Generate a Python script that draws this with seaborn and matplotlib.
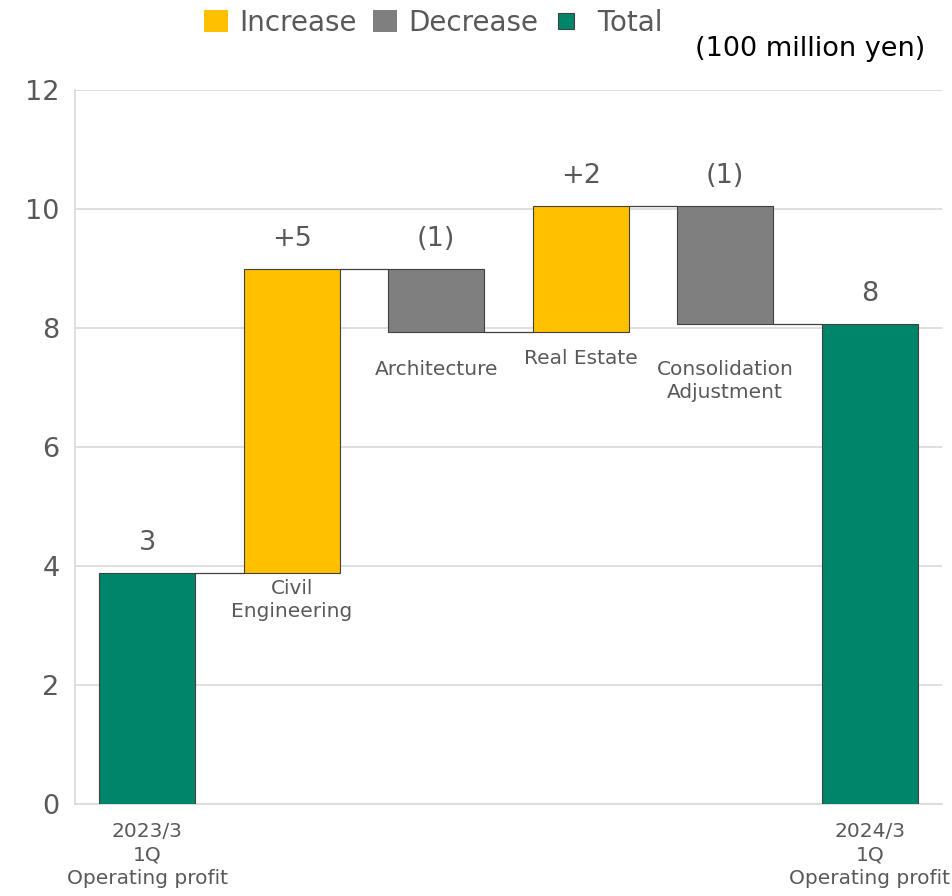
import matplotlib
matplotlib.use("Agg")
import matplotlib.pyplot as plt
from matplotlib.patches import Patch
from matplotlib.lines import Line2D
import numpy as np
import pandas as pd
import seaborn as sns

# Operating profit bridge, 100 million yen
items = ["start", "Civil\nEngineering", "Architecture", "Real Estate",
         "Consolidation\nAdjustment", "end"]
kinds = ["Total", "Increase", "Decrease", "Increase", "Decrease", "Total"]
changes = [3.88, 5.11, -1.06, 2.12, -1.98, 8.07]
tick_labels = ["2023/3\n1Q\nOperating profit", "", "", "", "",
               "2024/3\n1Q\nOperating profit"]
legend_order = ["Increase", "Decrease", "Total"]
unit_label = "(100 million yen)"

colors = {"Increase": "#FFC000", "Decrease": "#7F7F7F", "Total": "#00846A"}
text_color = "#595959"

# running totals -> bar bottoms / heights
bottoms, heights, tops = [], [], []
running = 0.0
for kind, v in zip(kinds, changes):
    if kind == "Total":
        running = v
        bottoms.append(0.0)
        heights.append(v)
    else:
        start = running
        running = start + v
        bottoms.append(min(start, running))
        heights.append(abs(v))
    tops.append(bottoms[-1] + heights[-1])


def value_text(kind, v):
    n = int(abs(v))
    if kind == "Increase":
        return f"+{n}"
    if kind == "Decrease":
        return f"({n})"
    return f"{n}"


df = pd.DataFrame({"item": items, "kind": kinds, "height": heights})

sns.set_style("white")
plt.rcParams["font.family"] = ["DejaVu Sans"]

fig = plt.figure(figsize=(9.53, 8.96), dpi=100)
ax = fig.add_axes([0.0787, 0.1027, 0.9098, 0.7969])

sns.barplot(data=df, x="item", y="height", hue="kind", order=items,
            palette=colors, saturation=1, dodge=False, width=0.665,
            legend=False, edgecolor="#404040", linewidth=0.8, ax=ax,
            zorder=3)

# shift each bar onto its floating base
half = 0.665 / 2
for p in ax.patches:
    if p.get_height() == 0:
        continue
    idx = int(round(p.get_x() + p.get_width() / 2))
    p.set_y(bottoms[idx])
    p.set_height(heights[idx])

# connectors between consecutive bars
for i in range(len(items) - 1):
    level = tops[i] if kinds[i] != "Decrease" else bottoms[i]
    ax.plot([i + half, i + 1 - half], [level, level], color="#404040",
            lw=0.9, zorder=4)

ax.set_xlim(-0.5, len(items) - 0.5)
ax.set_ylim(0, 12)
ax.set_yticks(np.arange(0, 13, 2))
ax.yaxis.grid(True, color="#D9D9D9", lw=1.2, zorder=0)
ax.set_axisbelow(True)
for s in ["top", "right"]:
    ax.spines[s].set_visible(False)
for s in ["left", "bottom"]:
    ax.spines[s].set_color("#D9D9D9")
    ax.spines[s].set_linewidth(1.2)
ax.tick_params(axis="y", labelsize=19.5, colors=text_color, length=0, pad=11)
ax.tick_params(axis="x", length=0, pad=13)
ax.set_xticks(range(len(items)))
ax.set_xticklabels(tick_labels, fontsize=14.5, color=text_color,
                   linespacing=1.3)
ax.set_xlabel("")
ax.set_ylabel("")

# value labels above each bar
for i, (k, v) in enumerate(zip(kinds, changes)):
    ax.annotate(value_text(k, v), (i, tops[i]), xytext=(0, 12),
                textcoords="offset points", ha="center", va="bottom",
                fontsize=19.5, color=text_color)

# segment names under the floating bars
name_offsets = [None, 4, 20, 12, 26, None]
for i, off in enumerate(name_offsets):
    if off is None:
        continue
    ax.annotate(items[i], (i, bottoms[i]), xytext=(0, -off),
                textcoords="offset points", ha="center", va="top",
                fontsize=14.5, color=text_color, linespacing=1.3)

handles = [Patch(facecolor=colors["Increase"], edgecolor="none"),
           Patch(facecolor=colors["Decrease"], edgecolor="none"),
           Line2D([], [], marker="s", linestyle="none", markersize=12,
                  markerfacecolor=colors["Total"], markeredgecolor="#404040",
                  markeredgewidth=0.8)]
leg = fig.legend(handles, ["Increase", "Decrease", " Total"],
                 loc="upper center", bbox_to_anchor=(0.455, 1.018), ncol=3,
                 frameon=False, fontsize=20, handlelength=0.85,
                 handleheight=0.85, handletextpad=0.4, columnspacing=0.6,
                 labelcolor=text_color)

fig.text(0.971, 0.945, unit_label, ha="right", va="center", fontsize=19.5,
         color="black")

fig.savefig("out.png", dpi=100)
